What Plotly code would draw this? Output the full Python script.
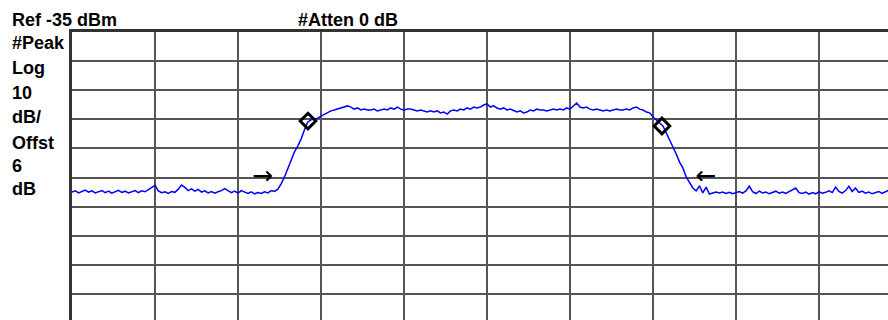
import numpy as np
import plotly.graph_objects as go

# ---------------- data ----------------
REF_LEVEL_DBM = -35.0
DB_PER_DIV = 10.0
SWEEP_STEP_DIV = 0.04  # horizontal spacing of trace points, in graticule divisions

trace_dbm = [
    # left noise floor
    -90.0, -89.6, -90.3, -89.8, -89.3, -90.0, -89.6, -90.3, -89.9, -89.5,
    -90.2, -89.7, -90.4, -89.8, -89.4, -90.1, -89.7, -90.3, -89.9, -89.5,
    -90.2, -89.6, -89.9, -89.2, -88.6, -87.7, -89.6, -90.2, -89.9, -90.5,
    -89.8, -90.1, -89.0, -87.6, -88.4, -89.5, -88.9, -89.7, -89.1, -90.0,
    -89.6, -90.3, -89.8, -90.4, -89.9, -89.5, -88.8, -89.6, -90.2, -89.7,
    -90.4, -89.5, -90.1, -90.5, -89.9, -90.6, -90.2, -90.5, -89.9, -90.3,
    -89.5, -89.8, -89.0,
    # rising edge
    -87.2, -84.8, -81.7, -79.0, -76.2, -74.2, -71.8, -68.7, -65.9, -65.2,
    -64.9, -64.6, -63.9, -63.2, -62.5, -62.1, -61.8, -61.5, -61.1, -60.8,
    -60.4,
    # plateau
    -60.8, -61.5, -61.1, -61.8, -61.5, -61.8, -61.8, -61.5, -62.1, -61.8,
    -61.5, -61.8, -61.1, -61.5, -60.8, -61.5, -61.8, -61.5, -61.5, -61.8,
    -62.1, -61.8, -62.1, -62.5, -62.1, -62.5, -62.1, -62.8, -62.5, -63.2,
    -62.1, -61.8, -62.1, -61.5, -61.8, -61.1, -61.5, -60.8, -61.1, -60.8,
    -60.1, -59.7, -60.8, -60.4, -61.1, -61.5, -61.1, -61.8, -61.5, -62.1,
    -62.5, -62.1, -62.8, -62.5, -61.8, -62.1, -61.5, -61.8, -61.8, -62.1,
    -61.8, -61.5, -61.8, -61.5, -61.8, -61.1, -61.5, -60.4, -59.4, -60.8,
    -61.1, -60.8, -61.5, -61.8, -61.5, -61.8, -62.1, -61.8, -62.1, -61.8,
    -61.5, -61.8, -61.8, -61.5, -61.8, -61.1, -60.8, -61.5, -61.8, -62.5,
    -62.8,
    # falling edge
    -64.2, -65.2, -66.3, -67.3, -69.7, -72.1, -74.2, -76.9, -79.7, -81.7,
    -84.8, -86.9, -88.6, -89.6, -87.9, -90.3, -88.3, -90.7, -90.3, -90.0,
    -90.3,
    # right noise floor
    -90.0, -90.5, -90.1, -90.6, -90.2, -89.8, -90.4, -89.6, -88.0, -89.9,
    -90.5, -89.7, -90.3, -90.0, -90.6, -90.1, -89.7, -90.4, -90.0, -90.5,
    -89.9, -89.4, -88.6, -90.2, -90.5, -90.0, -90.7, -90.2, -90.6, -89.9,
    -90.4, -90.1, -89.6, -90.2, -88.3, -89.8, -90.4, -89.5, -88.0, -89.8,
    -88.6, -90.1, -89.7, -90.4, -90.0, -90.6, -90.1, -89.8, -90.5, -90.0,
    -89.4,
]

marker_div = [2.843, 7.108]
marker_dbm = [-65.6, -67.3]

arrow_div = [2.295, 7.639]
arrow_dbm = [-85.0, -85.0]
arrow_text = ["→", "←"]

top_labels = ["Ref -35 dBm", "#Atten 0 dB"]
left_labels = ["#Peak", "Log", "10", "dB/", "Offst", "6", "dB"]

# ---------------- figure ----------------
W, H = 888, 320
ML, MT = 72, 32
PW, PH = W - ML, H - MT
DIV_W, DIV_H = 83.0, 29.1

x_range = [0, PW / DIV_W]
y_range = [REF_LEVEL_DBM - DB_PER_DIV * PH / DIV_H, REF_LEVEL_DBM]

freq_div = np.arange(len(trace_dbm)) * SWEEP_STEP_DIV

fig = go.Figure()
fig.add_trace(go.Scatter(
    x=freq_div, y=trace_dbm, mode="lines",
    line=dict(color="#0000ff", width=1.5),
    hoverinfo="skip", showlegend=False,
))
fig.add_trace(go.Scatter(
    x=marker_div, y=marker_dbm, mode="markers",
    marker=dict(symbol="diamond-open", size=12, color="black",
                line=dict(color="black", width=3)),
    hoverinfo="skip", showlegend=False,
))
fig.add_trace(go.Scatter(
    x=arrow_div, y=arrow_dbm, mode="text", text=arrow_text,
    textposition="middle center",
    textfont=dict(family="DejaVu Sans", size=25, color="black"),
    hoverinfo="skip", showlegend=False,
))

FONT = dict(family="Liberation Sans, Arial, sans-serif", size=18, color="#000000")


def px_to_paper(px, py):
    return (px - ML) / PW, (H - py) / PH


def add_label(text, px, py_mid):
    xp, yp = px_to_paper(px, py_mid)
    fig.add_annotation(text="<b>%s</b>" % text, x=xp, y=yp, xref="paper", yref="paper",
                       xanchor="left", yanchor="middle", showarrow=False, font=FONT)


add_label(top_labels[0], 10, 20)
add_label(top_labels[1], 296, 20)
left_mid = [43, 68, 93, 117, 143, 166, 189]
for t, ym in zip(left_labels, left_mid):
    add_label(t, 10, ym)

fig.update_xaxes(range=x_range, tick0=0, dtick=1, showgrid=True, gridcolor="#555555",
                 gridwidth=2, zeroline=False, showticklabels=False, ticks="",
                 showline=True, side="top", linecolor="#333333", linewidth=3)
fig.update_yaxes(range=y_range, tick0=REF_LEVEL_DBM, dtick=DB_PER_DIV, showgrid=True,
                 gridcolor="#555555", gridwidth=2, zeroline=False, showticklabels=False,
                 ticks="", showline=True, linecolor="#333333", linewidth=3)

fig.update_layout(
    width=W, height=H,
    margin=dict(l=ML, r=0, t=MT, b=0, pad=0),
    paper_bgcolor="white", plot_bgcolor="white",
    showlegend=False,
)

fig.write_html("out.html", config={"displayModeBar": False})
